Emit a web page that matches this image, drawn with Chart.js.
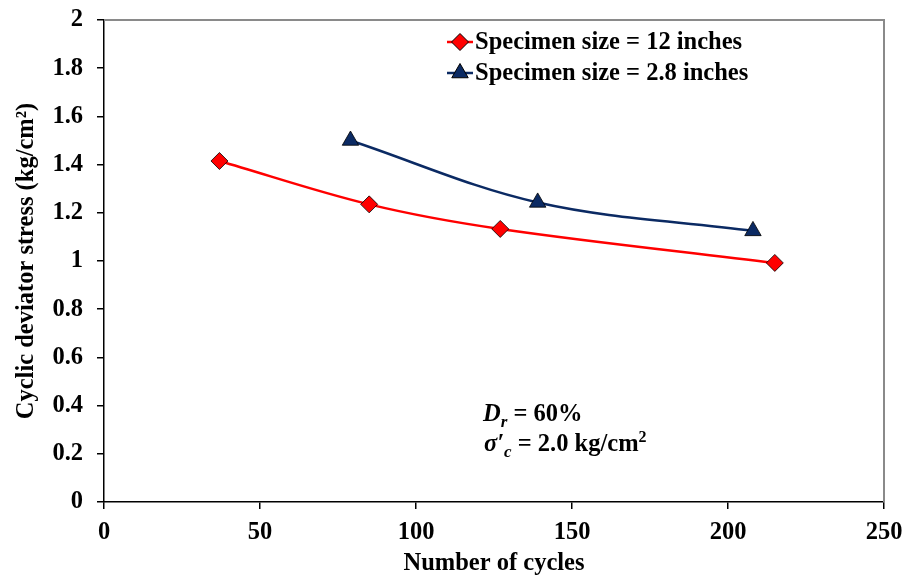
<!DOCTYPE html>
<html>
<head>
<meta charset="utf-8">
<script src="https://cdn.jsdelivr.net/npm/chart.js@4"></script>
<style>
  html, body { margin: 0; padding: 0; background: #fff; }
  #wrap { width: 907px; height: 578px; }
</style>
</head>
<body>
<div id="wrap"><canvas id="chart"></canvas></div>
<script>
// number of cycles / cyclic deviator stress (kg/cm2)
const cycles12 = [37, 85, 127, 215];
const stress12 = [1.415, 1.235, 1.133, 0.992];
const cycles28 = [79, 139, 208];
const stress28 = [1.5, 1.243, 1.125];
const seriesLabels = ['Specimen size = 12 inches', 'Specimen size = 2.8 inches'];
const xTicks = [0, 50, 100, 150, 200, 250];
const yTicks = [0, 0.2, 0.4, 0.6, 0.8, 1, 1.2, 1.4, 1.6, 1.8, 2];

const FONT = '"Liberation Serif", "Times New Roman", serif';
const FS = 24.5;
const RED = '#ff0000';
const NAVY = '#0b2a63';

const toPoints = (xs, ys) => xs.map((x, i) => ({ x, y: ys[i] }));

// gray frame on top/right, like the spreadsheet plot area
const frame = {
  id: 'frame',
  afterDraw(chart) {
    const { ctx, chartArea: a } = chart;
    ctx.save();
    ctx.strokeStyle = '#8a8a8a';
    ctx.lineWidth = 2;
    ctx.beginPath();
    ctx.moveTo(a.left, a.top);
    ctx.lineTo(a.right, a.top);
    ctx.lineTo(a.right, a.bottom);
    ctx.stroke();
    ctx.restore();
  }
};

// legend with line + marker, inside the plot
const lineLegend = {
  id: 'lineLegend',
  afterDraw(chart) {
    const { ctx } = chart;
    const x0 = 447, x1 = 473, rows = [42, 73];
    ctx.save();
    chart.data.datasets.forEach((ds, i) => {
      const y = rows[i];
      ctx.strokeStyle = ds.borderColor;
      ctx.lineWidth = ds.borderWidth;
      ctx.beginPath();
      ctx.moveTo(x0, y);
      ctx.lineTo(x1, y);
      ctx.stroke();
      ctx.fillStyle = ds.pointBackgroundColor;
      ctx.strokeStyle = ds.pointBorderColor;
      ctx.lineWidth = 1;
      Chart.helpers.drawPoint(ctx, {
        pointStyle: ds.pointStyle, radius: ds.pointRadius, borderWidth: 1
      }, (x0 + x1) / 2, y);
      ctx.fillStyle = '#000';
      ctx.font = 'bold ' + FS + 'px ' + FONT;
      ctx.textBaseline = 'middle';
      ctx.fillText(ds.label, x1 + 2, y + 1);
    });
    ctx.restore();
  }
};

// test conditions note
const note = {
  id: 'note',
  afterDraw(chart) {
    const { ctx } = chart;
    const bold = 'bold ' + FS + 'px ' + FONT;
    const boldIt = 'italic bold ' + FS + 'px ' + FONT;
    const sub = 'italic bold 17px ' + FONT;
    const sup = 'bold 16px ' + FONT;
    const run = (parts, x, y) => {
      parts.forEach(([text, font, dy]) => {
        ctx.font = font;
        ctx.fillText(text, x, y + dy);
        x += ctx.measureText(text).width;
      });
    };
    ctx.save();
    ctx.fillStyle = '#000';
    ctx.textBaseline = 'alphabetic';
    run([['D', boldIt, 0], ['r', sub, 6], [' = 60%', bold, 0]], 483, 421);
    run([['σ\u2032', boldIt, 0], ['c', sub, 6], [' = 2.0 kg/cm', bold, 0], ['2', sup, -9]], 484, 451);
    ctx.restore();
  }
};

new Chart(document.getElementById('chart'), {
  type: 'scatter',
  data: {
    datasets: [
      {
        label: seriesLabels[0],
        data: toPoints(cycles12, stress12),
        showLine: true,
        borderColor: RED,
        borderWidth: 2.5,
        tension: 0.35,
        pointStyle: 'rectRot',
        pointRadius: 8.5,
        pointHoverRadius: 8.5,
        pointBackgroundColor: RED,
        pointBorderColor: '#000',
        pointBorderWidth: 0.8
      },
      {
        label: seriesLabels[1],
        data: toPoints(cycles28, stress28),
        showLine: true,
        borderColor: NAVY,
        borderWidth: 2.5,
        tension: 0.35,
        pointStyle: 'triangle',
        pointRadius: 9.5,
        pointHoverRadius: 9.5,
        pointBackgroundColor: NAVY,
        pointBorderColor: '#000',
        pointBorderWidth: 0.8
      }
    ]
  },
  options: {
    responsive: true,
    maintainAspectRatio: false,
    animation: false,
    layout: { padding: { top: 20, right: 23, left: 0, bottom: 0 } },
    plugins: {
      legend: { display: false },
      tooltip: { enabled: false }
    },
    scales: {
      x: {
        type: 'linear',
        min: 0,
        max: 250,
        afterFit: s => { s.height = 76; s.paddingLeft = 0; s.paddingRight = 0; },
        afterBuildTicks: s => { s.ticks = xTicks.map(v => ({ value: v })); },
        ticks: {
          color: '#000',
          padding: 9,
          font: { family: FONT, size: FS, weight: 'bold' }
        },
        grid: { drawOnChartArea: false, drawTicks: true, tickLength: 7, color: '#000', lineWidth: 1.5 },
        border: { display: true, color: '#000', width: 1.5 },
        title: {
          display: true,
          text: 'Number of cycles',
          color: '#000',
          padding: { top: 5, bottom: 0 },
          font: { family: FONT, size: FS, weight: 'bold' }
        }
      },
      y: {
        min: 0,
        max: 2,
        afterFit: s => { s.width = 104; s.paddingTop = 0; s.paddingBottom = 0; },
        afterBuildTicks: s => { s.ticks = yTicks.map(v => ({ value: v })); },
        ticks: {
          color: '#000',
          padding: 14,
          callback: v => String(Number(v.toFixed(1))),
          font: { family: FONT, size: FS, weight: 'bold' }
        },
        grid: { drawOnChartArea: false, drawTicks: true, tickLength: 7, color: '#000', lineWidth: 1.5 },
        border: { display: true, color: '#000', width: 1.5 },
        title: {
          display: true,
          text: 'Cyclic deviator stress (kg/cm\u00b2)',
          color: '#000',
          padding: { top: 12, bottom: 0 },
          font: { family: FONT, size: FS, weight: 'bold' }
        }
      }
    }
  },
  plugins: [frame, lineLegend, note]
});
</script>
</body>
</html>
